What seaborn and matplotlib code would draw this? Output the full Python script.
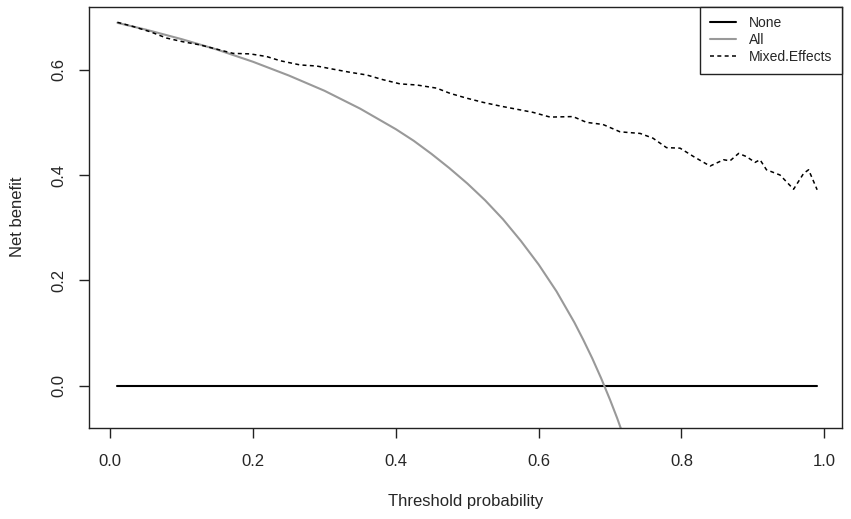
import matplotlib
matplotlib.use("Agg")
import matplotlib.pyplot as plt
import seaborn as sns
import pandas as pd

# ---- data ----
none_x = [0.01, 0.99]
none_y = [0.0, 0.0]

all_x = [0.01, 0.05, 0.10, 0.15, 0.20, 0.25, 0.30, 0.35, 0.40, 0.425, 0.45, 0.475, 0.50,
         0.525, 0.55, 0.575, 0.60, 0.625, 0.65, 0.6625, 0.675, 0.6875, 0.70, 0.71, 0.72]
all_y = [0.689, 0.676, 0.658, 0.638, 0.615, 0.589, 0.560, 0.526, 0.487, 0.465, 0.440, 0.413, 0.384,
         0.352, 0.316, 0.275, 0.230, 0.179, 0.120, 0.087, 0.052, 0.014, -0.027, -0.062, -0.100]

me_x = [0.01, 0.032, 0.056, 0.079, 0.102, 0.126, 0.149, 0.172, 0.196, 0.219, 0.238,
        0.266, 0.289, 0.312, 0.336, 0.359, 0.382, 0.406, 0.429, 0.457, 0.476, 0.499,
        0.522, 0.546, 0.569, 0.592, 0.616, 0.648, 0.667, 0.690, 0.714, 0.742, 0.760,
        0.779, 0.798, 0.817, 0.840, 0.859, 0.868, 0.880, 0.891, 0.903, 0.910, 0.919,
        0.938, 0.957, 0.971, 0.978, 0.99]
me_y = [0.690, 0.682, 0.672, 0.660, 0.653, 0.647, 0.639, 0.631, 0.630, 0.625, 0.617,
        0.609, 0.607, 0.601, 0.595, 0.590, 0.581, 0.573, 0.571, 0.565, 0.555, 0.546,
        0.538, 0.531, 0.525, 0.519, 0.510, 0.511, 0.500, 0.496, 0.482, 0.479, 0.470,
        0.452, 0.451, 0.435, 0.417, 0.429, 0.427, 0.441, 0.435, 0.424, 0.429, 0.410,
        0.400, 0.373, 0.403, 0.410, 0.372]

labels = ["None", "All", "Mixed.Effects"]
x_ticks = [0.0, 0.2, 0.4, 0.6, 0.8, 1.0]
y_ticks = [0.0, 0.2, 0.4, 0.6]

sns.set_style("white")
plt.rcParams['font.family'] = ['Liberation Sans', 'DejaVu Sans']
plt.rcParams['font.size'] = 12

W, H = 851, 519
fig = plt.figure(figsize=(W / 100, H / 100), dpi=100)
ax = fig.add_axes([89 / W, 1 - 427.7 / H, (842 - 89) / W, (427.7 - 6.5) / H])

sns.lineplot(x=none_x, y=none_y, ax=ax, color="black", lw=1.5, label=labels[0],
             sort=False, estimator=None)
sns.lineplot(x=all_x, y=all_y, ax=ax, color="#999999", lw=1.5, label=labels[1],
             sort=False, estimator=None)
sns.lineplot(x=me_x, y=me_y, ax=ax, color="black", lw=1.1, label=labels[2],
             sort=False, estimator=None, linestyle=(0, (2.6, 2.2)))

ax.set_xlim(-0.0298, 1.0248)
ax.set_ylim(-0.0798, 0.720)
ax.set_xticks(x_ticks)
ax.set_xticklabels([f"{v:.1f}" for v in x_ticks])
ax.set_yticks(y_ticks)
ax.set_yticklabels([f"{v:.1f}" for v in y_ticks], rotation=90, va="center")

for s in ax.spines.values():
    s.set_visible(True)
    s.set_color("#222222")
    s.set_linewidth(1.0)

ax.tick_params(axis="both", which="major", direction="out", length=7.2, width=1.0,
               color="#222222", labelsize=12, bottom=True, left=True, top=False, right=False)
ax.tick_params(axis="x", pad=12)
ax.tick_params(axis="y", pad=9)

ax.set_xlabel("Threshold probability", fontsize=12)
ax.set_ylabel("Net benefit", fontsize=12)
ax.xaxis.set_label_coords(0.5, (427.7 - 494.5) / (427.7 - 6.5), transform=ax.transAxes)
ax.yaxis.set_label_coords((25 - 89) / (842 - 89), 0.5, transform=ax.transAxes)

leg = ax.legend(loc="upper right", bbox_to_anchor=(1, 1), borderaxespad=0,
                fancybox=False, frameon=True, edgecolor="#222222", framealpha=1,
                fontsize=10, handlelength=1.9, handletextpad=0.95, labelspacing=0.22,
                borderpad=0.68)
leg.get_frame().set_linewidth(1.0)

fig.savefig("out.png", dpi=100, facecolor="white")
